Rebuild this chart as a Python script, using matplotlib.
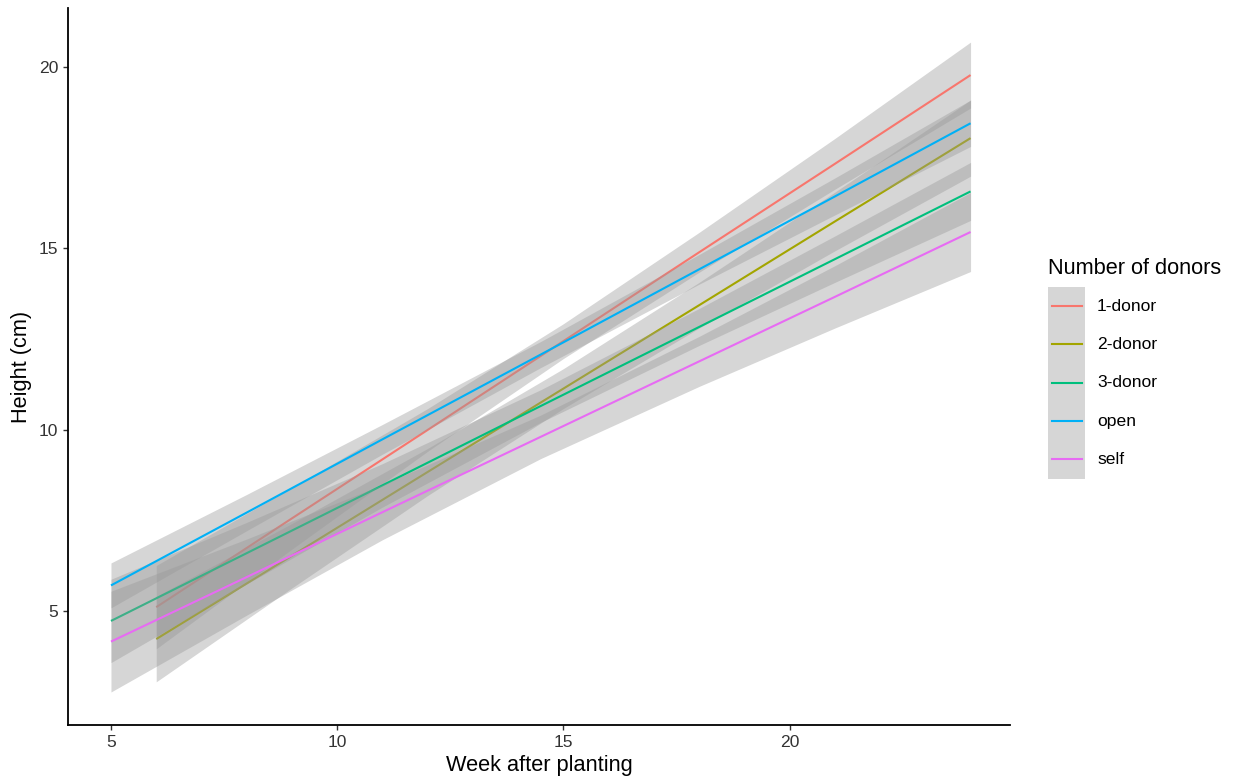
import matplotlib
matplotlib.use("Agg")
import matplotlib.pyplot as plt
from matplotlib.patches import Rectangle
from matplotlib.lines import Line2D
import numpy as np

plt.rcParams['font.family'] = ['Liberation Sans', 'DejaVu Sans']

groups = ["1-donor", "2-donor", "3-donor", "open", "self"]
colors = ["#F8766D", "#A3A500", "#00BF7D", "#00B0F6", "#E76BF3"]

# weeks at which each fitted line and its confidence band are described
weeks_1donor = [6, 9, 12, 15, 18, 21, 24]
weeks_2donor = [6, 9, 12, 15, 18, 21, 24]
weeks_3donor = [5, 8, 11, 14.5, 18, 21, 24]
weeks_open = [5, 8, 11, 14.5, 18, 21, 24]
weeks_self = [5, 8, 11, 14.5, 18, 21, 24]

# fitted height (cm) at those weeks
fit_1donor = [5.10, 7.55, 9.99, 12.44, 14.89, 17.33, 19.78]
fit_2donor = [4.22, 6.52, 8.83, 11.13, 13.43, 15.74, 18.04]
fit_3donor = [4.72, 6.59, 8.46, 10.65, 12.83, 14.70, 16.57]
fit_open = [5.70, 7.71, 9.73, 12.07, 14.42, 16.43, 18.45]
fit_self = [4.15, 5.93, 7.72, 9.80, 11.88, 13.66, 15.45]

# half-width of the 95% confidence band
ci_1donor = [1.15, 0.85, 0.59, 0.48, 0.55, 0.70, 0.91]
ci_2donor = [1.18, 0.89, 0.65, 0.55, 0.63, 0.81, 1.05]
ci_3donor = [1.15, 0.85, 0.60, 0.45, 0.51, 0.64, 0.80]
ci_open = [0.62, 0.50, 0.41, 0.36, 0.41, 0.51, 0.64]
ci_self = [1.39, 1.05, 0.76, 0.60, 0.69, 0.86, 1.09]

weeks = [weeks_1donor, weeks_2donor, weeks_3donor, weeks_open, weeks_self]
fits = [fit_1donor, fit_2donor, fit_3donor, fit_open, fit_self]
cis = [ci_1donor, ci_2donor, ci_3donor, ci_open, ci_self]

x_ticks = [5, 10, 15, 20]
y_ticks = [5, 10, 15, 20]

fig = plt.figure(figsize=(12.41, 7.84), dpi=100)
ax = fig.add_axes([0.0548, 0.0753, 0.759, 0.9145])

band_color = "#999999"
for i, (x, f, c, col) in enumerate(zip(weeks, fits, cis, colors)):
    x = np.asarray(x, float)
    f = np.asarray(f, float)
    c = np.asarray(c, float)
    ax.fill_between(x, f - c, f + c, color=band_color, alpha=0.4,
                    linewidth=0, zorder=2 + 2 * i)
    ax.plot(x, f, color=col, lw=1.5, zorder=3 + 2 * i,
            solid_capstyle="butt")

ax.set_xlim(4.05, 24.87)
ax.set_ylim(1.85, 21.63)
ax.set_xticks(x_ticks)
ax.set_yticks(y_ticks)
ax.set_xlabel("Week after planting", fontsize=15.7, labelpad=4)
ax.set_ylabel("Height (cm)", fontsize=15.7, labelpad=5)
ax.tick_params(axis="both", labelsize=12.6, colors="#333333", length=3.6,
               width=1, pad=3.5)
ax.tick_params(axis="both", labelcolor="#333333")
for side in ["top", "right"]:
    ax.spines[side].set_visible(False)
for side in ["left", "bottom"]:
    ax.spines[side].set_linewidth(1.3)
    ax.spines[side].set_color("black")

# legend: a continuous grey key column with coloured line keys
W, H = 1241.0, 784.0
fig.text(1048 / W, 1 - 268 / H, "Number of donors", fontsize=15.7,
         ha="left", va="center")
key_x0, key_x1 = 1048, 1085
key_top, key_step = 287, 38.3
fig.patches.append(Rectangle((key_x0 / W, 1 - (key_top + 5 * key_step) / H),
                             (key_x1 - key_x0) / W, 5 * key_step / H,
                             transform=fig.transFigure, facecolor=band_color,
                             alpha=0.4, edgecolor="none"))
for k, (name, col) in enumerate(zip(groups, colors)):
    yc = 1 - (key_top + (k + 0.5) * key_step) / H
    fig.lines.append(Line2D([1052 / W, 1082 / W], [yc, yc], color=col,
                            lw=1.5, transform=fig.transFigure))
    fig.text(1097 / W, yc, name, fontsize=12.6, ha="left", va="center")

fig.savefig("out.png", dpi=100)
